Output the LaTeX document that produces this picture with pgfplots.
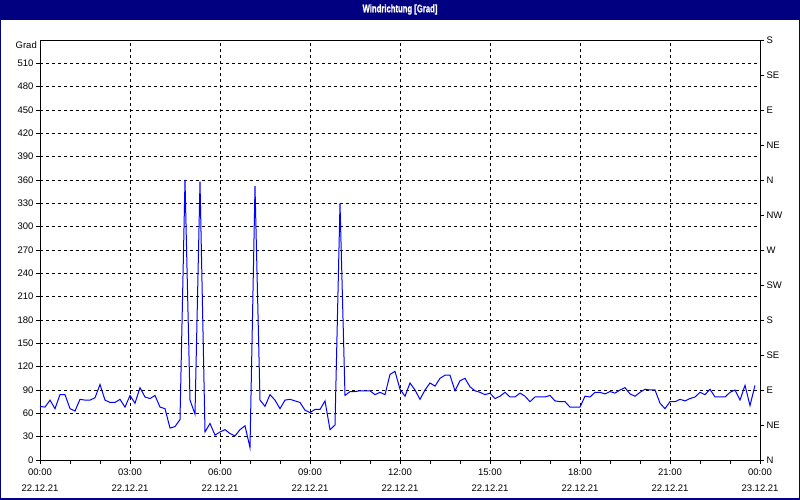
\documentclass[border=0pt]{standalone}
\usepackage{fontspec}
\setmainfont{Liberation Sans}
\newfontfamily\titlefont[FakeBold=1.2]{Liberation Sans Bold}
\usepackage{pgfplots}
\pgfplotsset{compat=1.18}
\definecolor{navy}{RGB}{0,0,128}
\pgfplotstableread{
i v
0 69
1 68
2 77
3 66
4 84
5 84
6 66
7 63
8 78
9 77
10 77
11 80
12 97
13 77
14 74
15 74
16 78
17 68
18 83
19 73
20 93
21 81
22 79
23 83
24 68
25 66
26 41
27 43
28 52
29 360
30 77
31 59
32 358
33 36
34 47
35 32
36 36
37 39
38 34
39 31
40 39
41 44
42 16
43 352
44 77
45 69
46 84
47 77
48 66
49 77
50 78
51 76
52 74
53 64
54 61
55 65
56 65
57 76
58 39
59 45
60 330
61 83
62 88
63 88
64 89
65 89
66 89
67 84
68 87
69 84
70 110
71 114
72 91
73 82
74 99
75 90
76 78
77 90
78 99
79 95
80 105
81 109
82 109
83 89
84 102
85 105
86 94
87 89
88 87
89 84
90 86
91 79
92 82
93 87
94 81
95 81
96 86
97 82
98 75
99 81
100 81
101 81
102 83
103 76
104 75
105 75
106 68
107 68
108 68
109 82
110 81
111 87
112 87
113 85
114 88
115 86
116 90
117 93
118 85
119 82
120 87
121 91
122 90
123 90
124 73
125 66
126 75
127 75
128 78
129 76
130 79
131 81
132 87
133 84
134 91
135 81
136 81
137 81
138 87
139 90
140 77
141 96
142 70
143 96
}\winddata
\begin{document}
\begin{tikzpicture}[x=1pt,y=1pt]
\useasboundingbox (-40,-40) rectangle (760,460);
\fill[white] (-40,-40) rectangle (760,460);
\begin{axis}[
  at={(0pt,0pt)}, anchor=south west,
  scale only axis, width=720pt, height=420pt,
  xmin=0, xmax=144, ymin=0, ymax=540,
  axis line style={black, line width=0.9pt},
  xtick={0,18,...,144},
  xticklabels={{00:00\\22.12.21},{03:00\\22.12.21},{06:00\\22.12.21},{09:00\\22.12.21},{12:00\\22.12.21},{15:00\\22.12.21},{18:00\\22.12.21},{21:00\\22.12.21},{00:00\\23.12.21}},
  minor xtick={6,12,...,138},
  ytick={0,30,...,510},
  xtick pos=left, ytick pos=left,
  tick align=outside,
  major tick length=4pt, minor tick length=4pt,
  tick style={black, line width=0.8pt},
  xmajorgrids, ymajorgrids,
  major grid style={black, line width=0.8pt, dash pattern=on 3pt off 3pt},
  /pgf/number format/assume math mode=true,
  ticklabel style={font=\fontsize{9.5}{16}\selectfont},
  xticklabel style={align=center, yshift=-1pt},
  yticklabel style={xshift=1pt},
  clip=false,
]
\addplot[blue, line width=1pt, mark=none] table[x=i, y=v] {\winddata};
\end{axis}
\begin{axis}[
  at={(0pt,0pt)}, anchor=south west,
  scale only axis, width=720pt, height=420pt,
  xmin=0, xmax=144, ymin=0, ymax=540,
  axis x line=none, axis y line*=right,
  axis line style={-, black, line width=0.9pt},
  ytick={0,45,...,540},
  yticklabels={N,NE,E,SE,S,SW,W,NW,N,NE,E,SE,S},
  tick align=outside,
  major tick length=4pt,
  tick style={black, line width=0.8pt},
  ticklabel style={font=\fontsize{9.5}{16}\selectfont},
  yticklabel style={xshift=-1pt},
]
\end{axis}
\node[anchor=east, inner sep=0pt, font=\fontsize{9.5}{16}\selectfont] at (-3,415) {Grad};
\fill[navy] (-40,440) rectangle (760,460);
\node[text=white, font=\titlefont\fontsize{11}{12}\selectfont, xscale=0.7, transform shape] at (360,450.5) {Windrichtung [Grad]};
\draw[navy, line width=1.5pt] (-39.25,-39.25) rectangle (759.25,459.25);
\end{tikzpicture}
\end{document}
